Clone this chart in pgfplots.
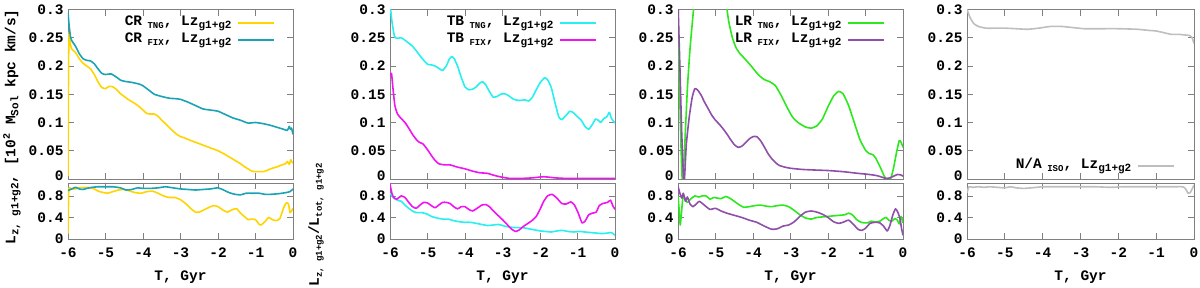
\documentclass[border=0pt]{standalone}
\usepackage{fontspec}
\setmainfont{Liberation Mono}
\usepackage{pgfplots}
\pgfplotsset{compat=1.18}
\definecolor{crY}{RGB}{255,212,0}
\definecolor{crT}{RGB}{26,163,180}
\definecolor{tbC}{RGB}{40,240,240}
\definecolor{tbM}{RGB}{240,20,240}
\definecolor{lrG}{RGB}{45,232,30}
\definecolor{lrP}{RGB}{142,78,170}
\definecolor{isoG}{RGB}{190,190,190}
\newcommand{\tlfont}{\fontsize{14.5}{16}\selectfont\bfseries}
\newcommand{\sbs}[2]{\raisebox{-0.4ex}{\fontsize{#1}{#1}\selectfont #2}}
\newcommand{\sps}[2]{\raisebox{0.7ex}{\fontsize{#1}{#1}\selectfont #2}}
\pgfplotsset{
  panel/.style={scale only axis, width=225pt, xmin=-6, xmax=0,
    xtick={-6,-5,-4,-3,-2,-1,0}, tick align=inside,
    axis line style={draw=black!50, line width=0.8pt},
    major tick length=6pt,
    every tick/.style={black!50, line width=0.7pt},
    tick label style={font=\tlfont},
    yticklabel style={xshift=-1pt},
    every axis plot/.append style={line width=1.6pt, line join=round, smooth, tension=0.3},
    legend cell align=right, legend plot pos=right,
    legend image code/.code={\draw[##1, line width=1.6pt] (0pt,0pt) -- (36pt,0pt);},
  },
  toppanel/.style={panel, height=169.5pt, ymin=0, ymax=0.3,
    ytick={0,0.05,0.1,0.15,0.2,0.25,0.3},
    yticklabels={\raisebox{6pt}{0},0.05,0.1,0.15,0.2,0.25,0.3},
    xticklabels={,,,,,,},
    legend style={draw=none, fill=none, font=\tlfont, column sep=5pt,
      nodes={inner sep=1pt, text height=10.5pt, text depth=4.5pt}},
  },
  botpanel/.style={panel, height=56pt, ymin=0, ymax=1.04,
    ytick={0,0.4,0.8}, yticklabels={0,0.4,0.8},
    xticklabels={-6,-5,-4,-3,-2,-1,0},
    xticklabel style={yshift=-5pt},
    xlabel={T, Gyr}, xlabel style={font=\tlfont, at={(axis description cs:0.5,0)}, anchor=center, yshift=-38pt},
  },
}
\begin{document}
\begin{tikzpicture}
\useasboundingbox (0pt,0pt) rectangle (1200pt,287pt);
% ---------------- Panel 1 ----------------
\begin{axis}[toppanel, at={(68pt,108pt)}, anchor=south west,
  legend style={at={(0.935,0.985)}, anchor=north east}]
\addplot[crY] coordinates {(-6,0.005)(-5.985,0.2)(-5.97,0.26)(-5.94,0.24)(-5.9,0.23)(-5.8,0.224)(-5.7,0.213)(-5.6,0.205)(-5.5,0.2)(-5.4,0.195)(-5.3,0.185)(-5.2,0.172)(-5.1,0.162)(-5.0,0.16)(-4.9,0.164)(-4.8,0.163)(-4.7,0.158)(-4.6,0.151)(-4.5,0.146)(-4.4,0.141)(-4.3,0.137)(-4.2,0.133)(-4.1,0.128)(-4.0,0.122)(-3.9,0.116)(-3.8,0.115)(-3.7,0.115)(-3.6,0.111)(-3.5,0.104)(-3.4,0.098)(-3.3,0.091)(-3.2,0.085)(-3.1,0.079)(-3.0,0.075)(-2.9,0.073)(-2.8,0.07)(-2.6,0.065)(-2.4,0.06)(-2.2,0.055)(-2.0,0.05)(-1.8,0.043)(-1.6,0.035)(-1.4,0.027)(-1.3,0.022)(-1.2,0.018)(-1.1,0.014)(-1.0,0.013)(-0.9,0.013)(-0.8,0.013)(-0.7,0.015)(-0.6,0.018)(-0.5,0.02)(-0.4,0.022)(-0.3,0.025)(-0.2,0.027)(-0.15,0.031)(-0.1,0.026)(-0.06,0.034)(-0.03,0.03)(0,0.028)};
\addlegendentry{CR\sbs{9}{\ TNG}, Lz\sbs{11}{g1+g2}}
\addplot[crT] coordinates {(-6,0.295)(-5.97,0.272)(-5.93,0.25)(-5.9,0.245)(-5.8,0.235)(-5.7,0.222)(-5.6,0.213)(-5.5,0.21)(-5.4,0.209)(-5.3,0.204)(-5.2,0.195)(-5.1,0.187)(-5.0,0.185)(-4.85,0.186)(-4.7,0.18)(-4.6,0.175)(-4.5,0.173)(-4.3,0.171)(-4.1,0.168)(-4.0,0.165)(-3.9,0.16)(-3.8,0.155)(-3.7,0.15)(-3.5,0.146)(-3.3,0.143)(-3.1,0.142)(-3.0,0.141)(-2.8,0.136)(-2.6,0.13)(-2.4,0.124)(-2.2,0.122)(-2.0,0.12)(-1.8,0.114)(-1.6,0.108)(-1.4,0.104)(-1.2,0.099)(-1.0,0.1)(-0.8,0.098)(-0.6,0.095)(-0.4,0.091)(-0.25,0.088)(-0.15,0.086)(-0.1,0.093)(-0.07,0.088)(-0.04,0.09)(0,0.079)};
\addlegendentry{CR\sbs{9}{\ FIX}, Lz\sbs{11}{g1+g2}}
\end{axis}
\begin{axis}[botpanel, at={(68pt,48pt)}, anchor=south west]
\addplot[crY] coordinates {(-6,0.1)(-5.98,0.9)(-5.95,0.95)(-5.9,0.93)(-5.8,0.93)(-5.7,0.95)(-5.5,0.96)(-5.4,0.95)(-5.3,0.93)(-5.2,0.89)(-5.1,0.87)(-4.95,0.85)(-4.8,0.88)(-4.65,0.91)(-4.5,0.92)(-4.35,0.89)(-4.2,0.86)(-4.05,0.85)(-3.9,0.88)(-3.75,0.89)(-3.6,0.85)(-3.45,0.8)(-3.3,0.77)(-3.15,0.77)(-3.0,0.73)(-2.85,0.65)(-2.7,0.55)(-2.6,0.5)(-2.5,0.5)(-2.35,0.55)(-2.2,0.6)(-2.1,0.62)(-2.0,0.6)(-1.85,0.53)(-1.75,0.5)(-1.6,0.55)(-1.5,0.56)(-1.4,0.48)(-1.3,0.42)(-1.2,0.36)(-1.1,0.37)(-1.0,0.36)(-0.9,0.27)(-0.85,0.26)(-0.75,0.32)(-0.65,0.4)(-0.55,0.36)(-0.45,0.34)(-0.35,0.38)(-0.25,0.58)(-0.18,0.67)(-0.12,0.65)(-0.08,0.49)(-0.04,0.52)(0,0.57)};
\addplot[crT] coordinates {(-6,0.9)(-5.9,0.93)(-5.8,0.96)(-5.7,0.93)(-5.6,0.92)(-5.5,0.94)(-5.35,0.96)(-5.2,0.97)(-5.0,0.97)(-4.8,0.97)(-4.6,0.95)(-4.45,0.91)(-4.3,0.92)(-4.15,0.95)(-4.0,0.94)(-3.8,0.94)(-3.6,0.95)(-3.4,0.97)(-3.2,0.95)(-3.0,0.93)(-2.8,0.92)(-2.6,0.91)(-2.4,0.92)(-2.2,0.93)(-2.0,0.95)(-1.85,0.91)(-1.7,0.86)(-1.55,0.83)(-1.4,0.82)(-1.25,0.85)(-1.1,0.85)(-0.9,0.85)(-0.75,0.83)(-0.6,0.83)(-0.4,0.84)(-0.2,0.86)(-0.08,0.88)(0,0.93)};
\end{axis}
% ---------------- Panel 2 ----------------
\begin{axis}[toppanel, at={(390pt,108pt)}, anchor=south west,
  legend style={at={(0.935,0.985)}, anchor=north east}]
\addplot[tbC] coordinates {(-6,0.31)(-5.95,0.28)(-5.88,0.252)(-5.8,0.249)(-5.7,0.25)(-5.55,0.243)(-5.4,0.235)(-5.3,0.227)(-5.2,0.218)(-5.1,0.21)(-5.0,0.203)(-4.9,0.202)(-4.8,0.2)(-4.7,0.196)(-4.6,0.192)(-4.5,0.2)(-4.42,0.212)(-4.35,0.217)(-4.28,0.212)(-4.2,0.2)(-4.1,0.18)(-4.0,0.163)(-3.9,0.158)(-3.8,0.159)(-3.7,0.163)(-3.6,0.17)(-3.53,0.172)(-3.45,0.167)(-3.35,0.155)(-3.25,0.145)(-3.15,0.146)(-3.05,0.15)(-2.95,0.151)(-2.85,0.148)(-2.7,0.141)(-2.55,0.139)(-2.4,0.14)(-2.3,0.138)(-2.2,0.145)(-2.1,0.158)(-2.0,0.17)(-1.88,0.179)(-1.8,0.176)(-1.7,0.162)(-1.6,0.135)(-1.5,0.11)(-1.42,0.105)(-1.3,0.113)(-1.2,0.12)(-1.1,0.117)(-1.0,0.11)(-0.9,0.104)(-0.8,0.093)(-0.7,0.088)(-0.6,0.097)(-0.52,0.106)(-0.45,0.104)(-0.38,0.1)(-0.3,0.107)(-0.22,0.11)(-0.15,0.118)(-0.1,0.108)(-0.05,0.103)(0,0.099)};
\addlegendentry{TB\sbs{9}{\ TNG}, Lz\sbs{11}{g1+g2}}
\addplot[tbM] coordinates {(-6,0.183)(-5.96,0.187)(-5.92,0.16)(-5.87,0.13)(-5.8,0.115)(-5.7,0.107)(-5.6,0.1)(-5.5,0.09)(-5.4,0.079)(-5.3,0.07)(-5.22,0.065)(-5.12,0.062)(-5.0,0.052)(-4.9,0.042)(-4.8,0.033)(-4.7,0.027)(-4.55,0.025)(-4.4,0.025)(-4.2,0.021)(-4.0,0.018)(-3.8,0.014)(-3.6,0.011)(-3.4,0.01)(-3.2,0.006)(-3.0,0.003)(-2.8,0.001)(-2.5,0.001)(-2.2,0.002)(-1.9,0.004)(-1.6,0.002)(-1.3,0.001)(-1.0,0.001)(-0.5,0.001)(0,0.001)};
\addlegendentry{TB\sbs{9}{\ FIX}, Lz\sbs{11}{g1+g2}}
\end{axis}
\begin{axis}[botpanel, at={(390pt,48pt)}, anchor=south west]
\addplot[tbC] coordinates {(-6,0.85)(-5.9,0.76)(-5.8,0.72)(-5.7,0.7)(-5.6,0.63)(-5.5,0.57)(-5.4,0.52)(-5.3,0.49)(-5.15,0.49)(-5.0,0.46)(-4.9,0.42)(-4.75,0.39)(-4.6,0.37)(-4.45,0.37)(-4.3,0.34)(-4.15,0.32)(-4.0,0.31)(-3.85,0.31)(-3.7,0.29)(-3.55,0.27)(-3.4,0.25)(-3.25,0.26)(-3.1,0.27)(-2.95,0.24)(-2.8,0.22)(-2.6,0.21)(-2.45,0.21)(-2.3,0.19)(-2.15,0.17)(-2.0,0.15)(-1.85,0.14)(-1.7,0.13)(-1.55,0.15)(-1.4,0.16)(-1.25,0.14)(-1.1,0.13)(-0.95,0.14)(-0.8,0.13)(-0.65,0.12)(-0.5,0.11)(-0.35,0.1)(-0.2,0.11)(-0.1,0.12)(-0.05,0.1)(0,0.07)};
\addplot[tbM] coordinates {(-6,1.02)(-5.95,0.85)(-5.9,0.77)(-5.82,0.74)(-5.7,0.8)(-5.6,0.77)(-5.5,0.68)(-5.4,0.6)(-5.3,0.57)(-5.2,0.63)(-5.1,0.68)(-5.0,0.67)(-4.9,0.62)(-4.8,0.58)(-4.7,0.63)(-4.6,0.68)(-4.5,0.68)(-4.4,0.66)(-4.3,0.6)(-4.2,0.56)(-4.1,0.6)(-4.0,0.6)(-3.9,0.55)(-3.8,0.52)(-3.7,0.56)(-3.55,0.63)(-3.45,0.64)(-3.35,0.6)(-3.2,0.49)(-3.0,0.36)(-2.85,0.25)(-2.75,0.18)(-2.65,0.14)(-2.55,0.17)(-2.45,0.23)(-2.3,0.3)(-2.2,0.35)(-2.1,0.42)(-2.0,0.55)(-1.9,0.7)(-1.8,0.8)(-1.68,0.83)(-1.55,0.76)(-1.42,0.66)(-1.3,0.65)(-1.18,0.69)(-1.08,0.63)(-0.98,0.48)(-0.88,0.3)(-0.8,0.33)(-0.7,0.45)(-0.6,0.48)(-0.5,0.5)(-0.42,0.62)(-0.32,0.66)(-0.2,0.68)(-0.12,0.72)(-0.06,0.62)(0,0.55)};
\end{axis}
% ---------------- Panel 3 ----------------
\begin{axis}[toppanel, at={(678pt,108pt)}, anchor=south west,
  legend style={at={(0.935,0.985)}, anchor=north east}]
\addplot[lrG] coordinates {(-6,0.32)(-5.97,0.2)(-5.93,0.08)(-5.88,-0.01)(-5.82,0.06)(-5.75,0.16)(-5.68,0.23)(-5.6,0.29)(-5.5,0.36)(-5.3,0.45)(-5.1,0.48)(-4.9,0.43)(-4.75,0.33)(-4.65,0.28)(-4.55,0.25)(-4.45,0.232)(-4.35,0.222)(-4.25,0.215)(-4.1,0.204)(-4.0,0.196)(-3.85,0.184)(-3.7,0.176)(-3.55,0.172)(-3.4,0.165)(-3.25,0.148)(-3.1,0.128)(-2.95,0.11)(-2.8,0.1)(-2.6,0.092)(-2.45,0.09)(-2.3,0.094)(-2.15,0.106)(-2.0,0.128)(-1.85,0.147)(-1.72,0.155)(-1.6,0.151)(-1.45,0.13)(-1.3,0.1)(-1.15,0.07)(-1.0,0.051)(-0.9,0.045)(-0.8,0.043)(-0.72,0.036)(-0.6,0.02)(-0.5,0.005)(-0.4,-0.003)(-0.32,0.002)(-0.25,0.02)(-0.17,0.048)(-0.1,0.068)(-0.05,0.065)(0,0.056)};
\addlegendentry{LR\sbs{9}{\ TNG}, Lz\sbs{11}{g1+g2}}
\addplot[lrP] coordinates {(-6,0.31)(-5.95,0.2)(-5.9,0.08)(-5.84,-0.01)(-5.78,0.06)(-5.7,0.11)(-5.62,0.145)(-5.55,0.16)(-5.47,0.157)(-5.38,0.148)(-5.3,0.137)(-5.2,0.125)(-5.1,0.113)(-5.0,0.104)(-4.9,0.097)(-4.8,0.089)(-4.7,0.08)(-4.6,0.07)(-4.5,0.061)(-4.4,0.056)(-4.3,0.058)(-4.2,0.064)(-4.1,0.071)(-4.0,0.075)(-3.9,0.075)(-3.8,0.068)(-3.7,0.057)(-3.6,0.045)(-3.5,0.036)(-3.4,0.029)(-3.3,0.024)(-3.15,0.021)(-3.0,0.019)(-2.7,0.017)(-2.4,0.016)(-2.0,0.015)(-1.6,0.013)(-1.2,0.01)(-0.9,0.008)(-0.7,0.006)(-0.55,0.003)(-0.45,0.001)(-0.35,0.002)(-0.25,0.005)(-0.15,0.008)(-0.05,0.007)(0,0.005)};
\addlegendentry{LR\sbs{9}{\ FIX}, Lz\sbs{11}{g1+g2}}
\end{axis}
\begin{axis}[botpanel, at={(678pt,48pt)}, anchor=south west]
\addplot[lrG] coordinates {(-6,0.8)(-5.97,0.55)(-5.94,0.26)(-5.9,0.55)(-5.86,0.82)(-5.8,0.72)(-5.75,0.68)(-5.65,0.75)(-5.55,0.8)(-5.45,0.78)(-5.35,0.8)(-5.25,0.8)(-5.15,0.74)(-5.05,0.77)(-4.95,0.76)(-4.85,0.75)(-4.72,0.79)(-4.6,0.75)(-4.5,0.7)(-4.38,0.64)(-4.25,0.59)(-4.1,0.6)(-3.95,0.62)(-3.8,0.63)(-3.65,0.61)(-3.5,0.6)(-3.35,0.62)(-3.2,0.63)(-3.05,0.6)(-2.9,0.53)(-2.75,0.45)(-2.6,0.39)(-2.45,0.37)(-2.3,0.4)(-2.15,0.41)(-2.0,0.42)(-1.85,0.43)(-1.7,0.44)(-1.55,0.45)(-1.45,0.48)(-1.35,0.45)(-1.25,0.37)(-1.15,0.32)(-1.05,0.3)(-0.95,0.3)(-0.85,0.33)(-0.75,0.32)(-0.62,0.33)(-0.52,0.38)(-0.45,0.4)(-0.38,0.35)(-0.3,0.33)(-0.22,0.38)(-0.15,0.35)(-0.1,0.28)(-0.05,0.42)(0,0.3)};
\addplot[lrP] coordinates {(-6,0.98)(-5.95,0.85)(-5.9,0.76)(-5.86,0.85)(-5.8,0.7)(-5.75,0.78)(-5.68,0.65)(-5.6,0.6)(-5.5,0.66)(-5.43,0.7)(-5.3,0.63)(-5.15,0.55)(-5.0,0.57)(-4.85,0.52)(-4.7,0.48)(-4.5,0.44)(-4.3,0.4)(-4.1,0.35)(-3.9,0.31)(-3.7,0.24)(-3.5,0.18)(-3.35,0.19)(-3.2,0.24)(-3.05,0.26)(-2.9,0.32)(-2.75,0.42)(-2.6,0.5)(-2.45,0.52)(-2.3,0.5)(-2.15,0.46)(-2.0,0.4)(-1.85,0.32)(-1.72,0.29)(-1.6,0.31)(-1.45,0.35)(-1.32,0.27)(-1.2,0.18)(-1.1,0.16)(-1.0,0.2)(-0.88,0.29)(-0.75,0.31)(-0.62,0.3)(-0.52,0.24)(-0.42,0.15)(-0.35,0.25)(-0.27,0.45)(-0.2,0.56)(-0.14,0.5)(-0.08,0.38)(-0.04,0.2)(0,0.07)};
\end{axis}
% ---------------- Panel 4 ----------------
\begin{axis}[toppanel, width=227pt, at={(967pt,108pt)}, anchor=south west,
  legend style={at={(0.93,0.015)}, anchor=south east}]
\addplot[isoG] coordinates {(-6,0.3)(-5.92,0.286)(-5.82,0.275)(-5.7,0.27)(-5.5,0.267)(-5.2,0.267)(-5.0,0.267)(-4.7,0.266)(-4.4,0.265)(-4.1,0.267)(-3.8,0.27)(-3.5,0.27)(-3.2,0.268)(-2.9,0.266)(-2.5,0.266)(-2.0,0.266)(-1.5,0.265)(-1.2,0.263)(-1.0,0.262)(-0.8,0.259)(-0.6,0.256)(-0.4,0.256)(-0.25,0.255)(-0.12,0.254)(-0.05,0.25)(0,0.24)};
\addlegendentry{N/A\sbs{9}{\ ISO}, Lz\sbs{11}{g1+g2}}
\end{axis}
\begin{axis}[botpanel, width=227pt, at={(967pt,48pt)}, anchor=south west]
\addplot[isoG] coordinates {(-6,0.86)(-5.95,0.97)(-5.85,0.96)(-5.7,0.97)(-5.55,0.96)(-5.4,0.97)(-5.2,0.96)(-5.0,0.95)(-4.85,0.97)(-4.7,0.95)(-4.5,0.94)(-4.3,0.95)(-4.0,0.97)(-3.7,0.97)(-3.4,0.97)(-3.0,0.97)(-2.6,0.97)(-2.2,0.96)(-1.9,0.97)(-1.5,0.97)(-1.0,0.97)(-0.6,0.97)(-0.3,0.97)(-0.22,0.93)(-0.16,0.85)(-0.1,0.86)(-0.05,0.93)(0,1.0)};
\end{axis}
% ---------------- y labels ----------------
\node[rotate=90, font=\tlfont] at (12pt,160pt) {L\sbs{11}{z, g1+g2}, [10\sps{10}{2} M\sbs{11}{Sol} kpc km/s]};
\node[rotate=90, font=\tlfont] at (316pt,62pt) {L\sbs{9}{z, g1+g2}/L\sbs{9}{tot, g1+g2}};
\end{tikzpicture}
\end{document}
